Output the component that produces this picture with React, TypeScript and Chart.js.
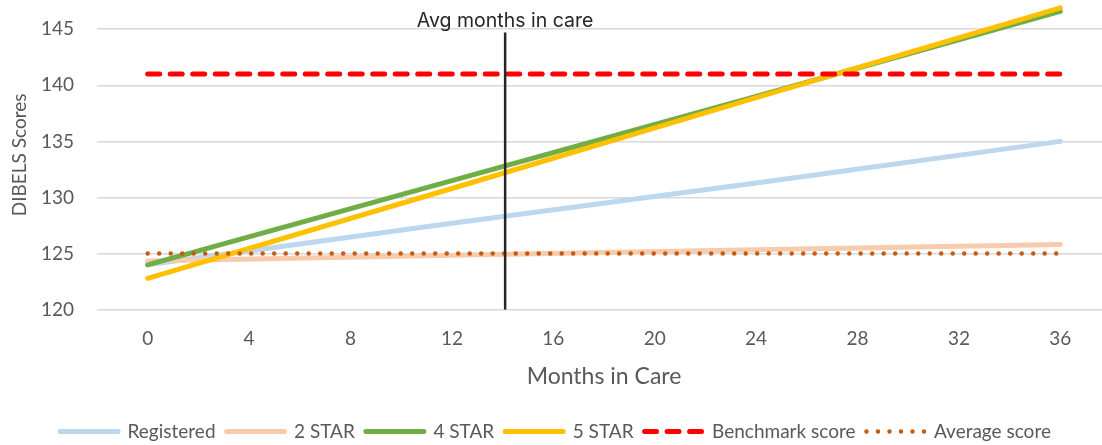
import { useEffect, useRef } from "react";
import { Chart, registerables } from "chart.js";

Chart.register(...registerables);

// ---- data ----
const MONTHS = [0, 12, 24, 36];
const REGISTERED = [124.0, 127.7, 131.3, 135.0];
const STAR2 = [124.35, 124.85, 125.35, 125.8];
const STAR4 = [124.0, 131.5, 139.0, 146.6];
const STAR5 = [122.8, 130.8, 138.9, 146.9];
const BENCHMARK = [141, 141, 141, 141];
const AVERAGE = [125, 125, 125, 125];
const SERIES_NAMES = ["Registered", "2 STAR", "4 STAR", "5 STAR", "Benchmark score", "Average score"];
const AVG_MONTHS = 14.1;
const AVG_LINE_Y = [120, 144.7];
const AVG_LABEL = "Avg months in care";
const AVG_LABEL_Y = 145.2;
const X_TICKS = [0, 4, 8, 12, 16, 20, 24, 28, 32, 36];
const Y_TICKS = [120, 125, 130, 135, 140, 145];
const X_MIN = -2;
const X_MAX = 38;
const Y_MIN = 120;
const Y_MAX = 147.6;

const FONT = "Lato";
const TEXT_COLOR = "#595959";

const pts = (ys: number[]) => MONTHS.map((m, i) => ({ x: m, y: ys[i] }));

const avgLabelPlugin = {
  id: "avgLabel",
  afterDatasetsDraw(chart: any) {
    const { ctx, scales } = chart;
    const x = scales.x.getPixelForValue(AVG_MONTHS);
    const y = scales.y.getPixelForValue(AVG_LABEL_Y);
    ctx.save();
    ctx.font = `19.5px Inter`;
    ctx.fillStyle = "#262626";
    ctx.textAlign = "center";
    ctx.textBaseline = "alphabetic";
    ctx.fillText(AVG_LABEL, x, y);
    ctx.restore();
  },
};

export default function App() {
  const ref = useRef<HTMLCanvasElement | null>(null);

  useEffect(() => {
    if (!ref.current) return;
    const seriesValues = [REGISTERED, STAR2, STAR4, STAR5, BENCHMARK, AVERAGE];
    const colors = ["#bdd7ee", "#f8cbad", "#70ad47", "#ffc000", "#ff0000", "#c55a11"];
    const dashes: number[][] = [[], [], [], [], [12, 10.5], [0, 11.5]];
    const widths = [5, 5, 5, 5, 5, 4.5];

    const datasets: any[] = seriesValues.map((vals, i) => ({
      label: SERIES_NAMES[i],
      data: pts(vals),
      borderColor: colors[i],
      backgroundColor: colors[i],
      borderWidth: widths[i],
      borderDash: dashes[i],
      borderCapStyle: "round",
      borderJoinStyle: "round",
      pointRadius: 0,
      pointHoverRadius: 0,
      tension: 0,
      fill: false,
      order: 10 - i,
    }));
    datasets.push({
      label: "",
      data: AVG_LINE_Y.map((y) => ({ x: AVG_MONTHS, y })),
      borderColor: "#262626",
      borderWidth: 2.5,
      borderCapStyle: "butt",
      pointRadius: 0,
      pointHoverRadius: 0,
      fill: false,
      order: 0,
    });

    const chart = new Chart(ref.current, {
      type: "line",
      data: { datasets },
      plugins: [avgLabelPlugin],
      options: {
        animation: false,
        responsive: false,
        devicePixelRatio: 1,
        layout: { padding: { top: 0, left: 0, right: 0, bottom: -6 } },
        plugins: {
          tooltip: { enabled: false },
          legend: {
            position: "bottom",
            labels: {
              usePointStyle: true,
              pointStyleWidth: 58,
              padding: 11,
              color: TEXT_COLOR,
              font: { family: FONT, size: 19 },
              generateLabels: (c: any) =>
                c.data.datasets
                  .map((ds: any, i: number) => ({
                    text: ds.label,
                    datasetIndex: i,
                    strokeStyle: ds.borderColor,
                    fillStyle: "rgba(0,0,0,0)",
                    lineWidth: ds.borderWidth,
                    lineDash: ds.borderDash || [],
                    lineCap: "round",
                    pointStyle: "line",
                    hidden: false,
                    fontColor: TEXT_COLOR,
                  }))
                  .filter((it: any) => it.text),
            },
          },
        },
        scales: {
          x: {
            type: "linear",
            min: X_MIN,
            max: X_MAX,
            afterBuildTicks: (s: any) => {
              s.ticks = X_TICKS.map((v) => ({ value: v }));
            },
            afterFit: (s: any) => {
              s.height = 101.3;
              s.paddingLeft = 0;
              s.paddingRight = 0;
            },
            grid: { display: false, drawTicks: false },
            border: { display: false },
            ticks: {
              color: TEXT_COLOR,
              font: { family: FONT, size: 19 },
              padding: 18,
              maxRotation: 0,
              autoSkip: false,
            },
            title: {
              display: true,
              text: "Months in Care",
              color: TEXT_COLOR,
              font: { family: FONT, size: 23 },
              padding: { top: 0, bottom: 21 },
            },
          },
          y: {
            type: "linear",
            min: Y_MIN,
            max: Y_MAX,
            afterBuildTicks: (s: any) => {
              s.ticks = Y_TICKS.map((v) => ({ value: v }));
            },
            afterFit: (s: any) => {
              s.width = 97;
              s.paddingTop = 0;
              s.paddingBottom = 0;
            },
            grid: { color: "#d9d9d9", lineWidth: 1.5, drawTicks: false },
            border: { display: false },
            ticks: {
              color: TEXT_COLOR,
              font: { family: FONT, size: 19 },
              padding: 23,
              autoSkip: false,
            },
            title: {
              display: true,
              text: "DIBELS Scores",
              color: TEXT_COLOR,
              font: { family: FONT, size: 19 },
              padding: { top: 8, bottom: 0 },
            },
          },
        },
      },
    } as any);
    return () => chart.destroy();
  }, []);

  return (
    <div
      style={{
        position: "fixed",
        left: 0,
        top: 0,
        width: 1102,
        height: 445,
        overflow: "hidden",
        background: "#fff",
      }}
    >
      <canvas ref={ref} width={1111} height={445} style={{ display: "block" }} />
    </div>
  );
}
